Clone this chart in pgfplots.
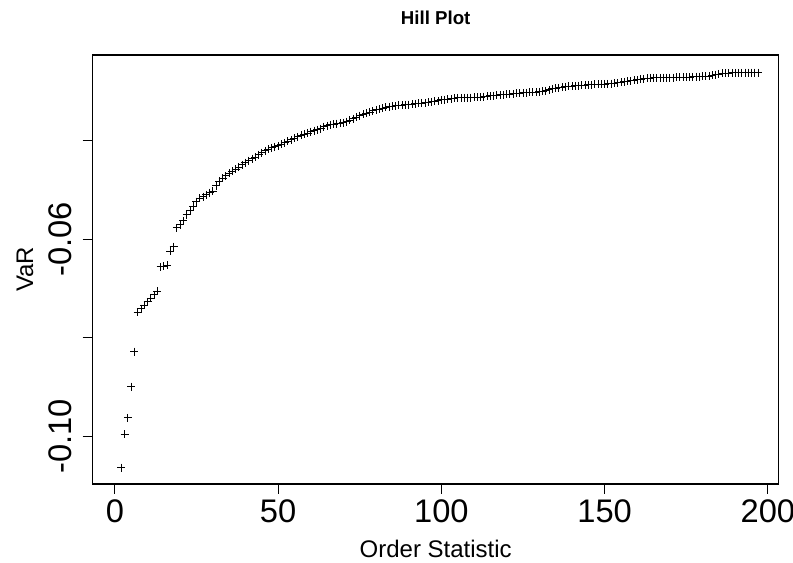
\documentclass[border=0pt]{standalone}
\usepackage{pgfplots}
\pgfplotsset{compat=1.18}
\usepackage{fontspec}
\setmainfont{Liberation Sans}
\begin{document}
\begin{tikzpicture}
\useasboundingbox (0,0) rectangle (594.75pt,422.25pt);
\begin{axis}[
 at={(69.5pt,59.25pt)}, anchor=south west,
 scale only axis, width=514.5pt, height=321.75pt,
 xmin=-6.8, xmax=203.3, ymin=-0.1096, ymax=-0.0227,
 axis line style={line width=1pt},
 tick style={line width=0.8pt, black},
 tick align=outside, major tick length=7.5pt,
 xtick pos=bottom, ytick pos=left,
 xtick={0,50,100,150,200},
 ytick={-0.10,-0.08,-0.06,-0.04},
 yticklabels={-0.10,{},-0.06,{}},
 /pgf/number format/assume math mode=true,
 tick label style={font=\fontsize{24.5}{29}\selectfont},
 xticklabel style={anchor=north, inner sep=0pt},
 xticklabel shift=3.75pt,
 yticklabel style={rotate=90, anchor=south, inner sep=0pt},
 yticklabel shift=8pt,
 xlabel={Order Statistic},
 ylabel={VaR},
 label style={font=\fontsize{18}{21}\selectfont},
 xlabel style={at={(axis description cs:0.5,-0.1515)}, anchor=center},
 ylabel style={at={(axis description cs:-0.0987,0.5)}, anchor=center},
 title={Hill Plot},
 title style={at={(axis description cs:0.5,1.0676)}, anchor=center, font=\bfseries\fontsize{14}{16}\selectfont},
]
\addplot[only marks, mark=+, mark size=3pt, black, line width=0.7pt] table {
x y
2 -0.1063
3 -0.0995
4 -0.0962
5 -0.0899
6 -0.0828
7 -0.0748
8 -0.0741
9 -0.0734
10 -0.0727
11 -0.0720
12 -0.0713
13 -0.0706
14 -0.0656
15 -0.0655
16 -0.0653
17 -0.0625
18 -0.0615
19 -0.0577
20 -0.0571
21 -0.0563
22 -0.0551
23 -0.0541
24 -0.0533
25 -0.0524
26 -0.0517
27 -0.0514
28 -0.0510
29 -0.0506
30 -0.0503
31 -0.0492
32 -0.0483
33 -0.0477
34 -0.0472
35 -0.0467
36 -0.0463
37 -0.0458
38 -0.0454
39 -0.0449
40 -0.0445
41 -0.0441
42 -0.0437
43 -0.0434
44 -0.0429
45 -0.0425
46 -0.0421
47 -0.0418
48 -0.0415
49 -0.0413
50 -0.0411
51 -0.0408
52 -0.0405
53 -0.0402
54 -0.0399
55 -0.0396
56 -0.0393
57 -0.0390
58 -0.0387
59 -0.0385
60 -0.0382
61 -0.0380
62 -0.0378
63 -0.0376
64 -0.0372
65 -0.0370
66 -0.0368
67 -0.0367
68 -0.0366
69 -0.0365
70 -0.0364
71 -0.0362
72 -0.0359
73 -0.0356
74 -0.0353
75 -0.0350
76 -0.0347
77 -0.0345
78 -0.0343
79 -0.0340
80 -0.0338
81 -0.0337
82 -0.0335
83 -0.0333
84 -0.0332
85 -0.0331
86 -0.0330
87 -0.0329
88 -0.03285
89 -0.0328
90 -0.03275
91 -0.0327
92 -0.0326
93 -0.0325
94 -0.03242
95 -0.0324
96 -0.0323
97 -0.0322
98 -0.03212
99 -0.0320
100 -0.0318
101 -0.03177
102 -0.0317
103 -0.0316
104 -0.03151
105 -0.0314
106 -0.03139
107 -0.03137
108 -0.03136
109 -0.03133
110 -0.03131
111 -0.03127
112 -0.03121
113 -0.03113
114 -0.03106
115 -0.03100
116 -0.03092
117 -0.03086
118 -0.03076
119 -0.03072
120 -0.03066
121 -0.03062
122 -0.03056
123 -0.03050
124 -0.03042
125 -0.03036
126 -0.03032
127 -0.03028
128 -0.03024
129 -0.03020
130 -0.03015
131 -0.03005
132 -0.02995
133 -0.02975
134 -0.02955
135 -0.02945
136 -0.02934
137 -0.02924
138 -0.02914
139 -0.02908
140 -0.02900
141 -0.02894
142 -0.02890
143 -0.02884
144 -0.02880
145 -0.02873
146 -0.02869
147 -0.02867
148 -0.02863
149 -0.02859
150 -0.02857
151 -0.02853
152 -0.02849
153 -0.02845
154 -0.02833
155 -0.02823
156 -0.02813
157 -0.02803
158 -0.02792
159 -0.02782
160 -0.02772
161 -0.02762
162 -0.02752
163 -0.02742
164 -0.02736
165 -0.02733
166 -0.02732
167 -0.02732
168 -0.02731
169 -0.02730
170 -0.02728
171 -0.02726
172 -0.02724
173 -0.02722
174 -0.02720
175 -0.02718
176 -0.02716
177 -0.02712
178 -0.02710
179 -0.02708
180 -0.02703
181 -0.02701
182 -0.02697
183 -0.02681
184 -0.02667
185 -0.02655
186 -0.02644
187 -0.02640
188 -0.02636
189 -0.02634
190 -0.02632
191 -0.02630
192 -0.02630
193 -0.02629
194 -0.02629
195 -0.02628
196 -0.02628
197 -0.02628
};
\end{axis}
\end{tikzpicture}
\end{document}
